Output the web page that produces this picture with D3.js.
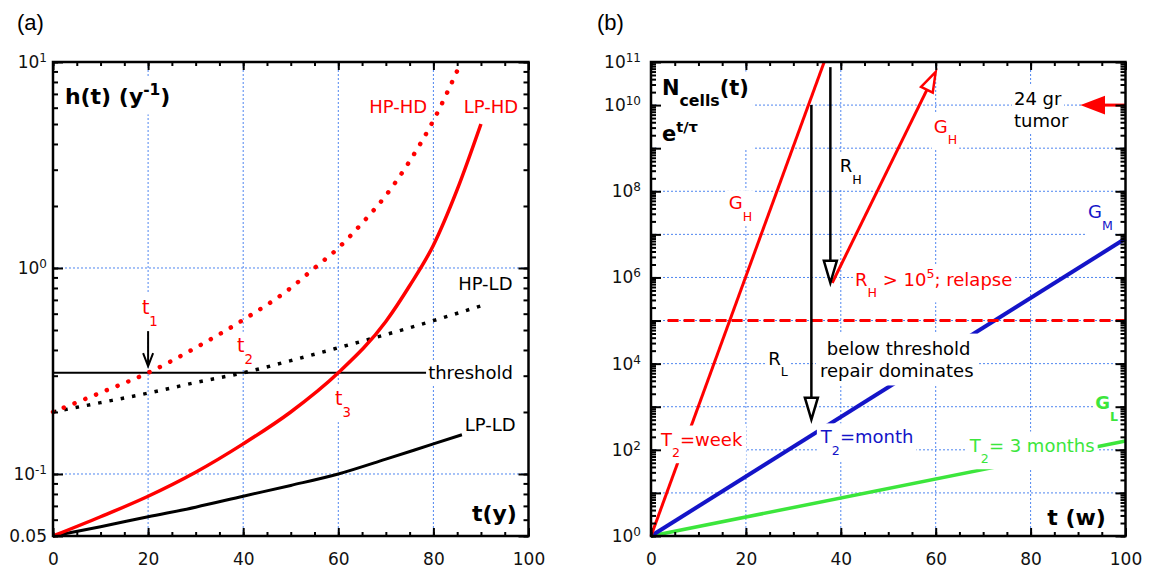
<!DOCTYPE html>
<html>
<head>
<meta charset="utf-8">
<script src="https://cdn.jsdelivr.net/npm/d3@7"></script>
<style>
  body { margin: 0; background: #fff; }
  svg { display: block; font-family: "DejaVu Sans", Verdana, sans-serif; }
</style>
</head>
<body>
<div id="chart"></div>
<script>
// (a) hazard h(t), per year, against age in years
const yearsLPHD = [0, 10, 20, 30, 40, 50, 60, 70, 75, 80, 85, 90];
const lpHD = [0.05, 0.062, 0.078, 0.102, 0.14, 0.2, 0.31, 0.55, 0.82, 1.29, 2.4, 5.0];
const yearsHPHD = [0, 10, 20, 30, 40, 50, 55, 60, 65, 70, 75, 80, 85.5];
const hpHD = [0.2, 0.248, 0.31, 0.41, 0.56, 0.8, 1.0, 1.25, 1.65, 2.25, 3.3, 5.2, 9.6];
const yearsHPLD = [0, 10, 20, 30, 40, 50, 60, 70, 80, 90];
const hpLD = [0.2, 0.222, 0.247, 0.278, 0.31, 0.355, 0.41, 0.475, 0.555, 0.655];
const yearsLPLD = [0, 10, 20, 30, 40, 50, 60, 70, 80, 86];
const lpLD = [0.05, 0.0555, 0.062, 0.069, 0.078, 0.088, 0.1, 0.118, 0.14, 0.155];
const hazardThreshold = 0.31;
const hazardThresholdEnd = 78.5;
const yTicksA = [0.05, 0.1, 1, 10];

// (b) number of cells against time in weeks
const weeksGH = [0, 36.5];
const cellsGH = [1, 1e11];
const weeksRelapse = [38.2, 60];
const cellsRelapse = [7.5e5, 5.9e10];
const weeksGM = [0, 100];
const cellsGM = [1, 8e6];
const weeksGL = [0, 100];
const cellsGL = [1, 160];
const cellThreshold = 1e5;
const tumorCells = 1e10;
const yTicksB = [1, 1e1, 1e2, 1e3, 1e4, 1e5, 1e6, 1e7, 1e8, 1e9, 1e10, 1e11];
const yLabelExpB = [0, 2, 4, 6, 8, 10, 11];

const xMajor = [0, 20, 40, 60, 80, 100];
const xMinor = d3.range(0, 101, 5);

const width = 1157;
const height = 570;
const red = '#ff0000', blue = '#1414c8', green = '#3ce63c', gridColor = '#4f86f0';

const svg = d3.select('#chart')
  .append('svg')
  .attr('width', width)
  .attr('height', height);

svg.append('rect').attr('width', width).attr('height', height).attr('fill', '#fff');

const areaA = { left: 53, right: 528.5, top: 62, bottom: 536 };
const areaB = { left: 651, right: 1125.5, top: 62, bottom: 536 };

const xa = d3.scaleLinear().domain([0, 100]).range([areaA.left, areaA.right]);
const ya = d3.scaleLog().domain([0.05, 10]).range([areaA.bottom, areaA.top]);
const xb = d3.scaleLinear().domain([0, 100]).range([areaB.left, areaB.right]);
const yb = d3.scaleLog().domain([1, 1e11]).range([areaB.bottom, areaB.top]);

function layers() {
  const g = svg.append('g');
  const l = {};
  ['grid', 'curves', 'boxes', 'text', 'frame'].forEach(k => l[k] = g.append('g'));
  return l;
}

function drawGrid(l, x, y, area, xs, ys) {
  const gg = l.grid.append('g')
    .attr('stroke', gridColor).attr('stroke-width', 1).attr('stroke-dasharray', '2,2');
  gg.selectAll('line.gx').data(xs).join('line').attr('class', 'gx')
    .attr('x1', d => x(d)).attr('x2', d => x(d))
    .attr('y1', area.top).attr('y2', area.bottom);
  gg.selectAll('line.gy').data(ys).join('line').attr('class', 'gy')
    .attr('x1', area.left).attr('x2', area.right)
    .attr('y1', d => y(d)).attr('y2', d => y(d));
}

function styleAxis(g) {
  g.select('.domain').remove();
  g.selectAll('line').attr('stroke', '#000').attr('stroke-width', 2);
  g.attr('font-size', 17).attr('font-family', '"DejaVu Sans", Verdana, sans-serif');
  g.selectAll('text').attr('fill', '#111');
}

function powLabels(g, show) {
  g.selectAll('.tick text').each(function (d) {
    const t = d3.select(this);
    if (Math.abs(d - 0.05) < 1e-9) { t.text('0.05'); return; }
    const e = Math.round(Math.log10(d));
    t.text(null);
    if (!show(e)) return;
    t.text('10');
    t.append('tspan').attr('dy', '-0.5em').attr('font-size', 12).text(e);
  });
}

function drawAxes(l, x, y, area, yMajor, show, pad) {
  const f = l.frame;
  const add = (tr, axis) => f.append('g').attr('transform', tr).call(axis).call(styleAxis);
  add(`translate(0,${area.bottom})`, d3.axisBottom(x).tickValues(xMinor).tickSize(-4).tickFormat(''));
  add(`translate(0,${area.bottom})`, d3.axisBottom(x).tickValues(xMajor).tickSize(-8).tickPadding(17));
  add(`translate(0,${area.top})`, d3.axisTop(x).tickValues(xMinor).tickSize(-4).tickFormat(''));
  add(`translate(0,${area.top})`, d3.axisTop(x).tickValues(xMajor).tickSize(-8).tickFormat(''));
  const minor = y.ticks(40);
  add(`translate(${area.left},0)`, d3.axisLeft(y).tickValues(minor).tickSize(-5).tickFormat(''));
  add(`translate(${area.right},0)`, d3.axisRight(y).tickValues(minor).tickSize(-5).tickFormat(''));
  add(`translate(${area.right},0)`, d3.axisRight(y).tickValues(yMajor).tickSize(-10).tickFormat(''));
  add(`translate(${area.left},0)`, d3.axisLeft(y).tickValues(yMajor).tickSize(-10).tickPadding(pad).tickFormat(''))
    .call(g => powLabels(g, show));
  f.append('rect')
    .attr('x', area.left).attr('y', area.top)
    .attr('width', area.right - area.left).attr('height', area.bottom - area.top)
    .attr('fill', 'none').attr('stroke', '#000').attr('stroke-width', 2.5);
}

function curve(l, x, y, xs, ys, color, w, dash, cap) {
  const pts = xs.map((d, i) => [x(d), y(ys[i])]);
  l.curves.append('path')
    .attr('d', d3.line().curve(d3.curveMonotoneX)(pts))
    .attr('fill', 'none').attr('stroke', color).attr('stroke-width', w)
    .attr('stroke-dasharray', dash || null)
    .attr('stroke-linecap', cap || 'butt')
    .attr('stroke-linejoin', 'round');
}

function label(l, px, py, parts, o = {}) {
  const fs = o.size || 18;
  const t = l.text.append('text')
    .attr('x', px).attr('y', py + fs * 0.36)
    .attr('font-size', fs).attr('fill', o.color || '#000')
    .attr('font-weight', o.bold ? 'bold' : 'normal')
    .attr('text-anchor', o.anchor || 'start')
    .style('white-space', 'pre');
  let shift = 0;
  parts.forEach(p => {
    const [s, k] = Array.isArray(p) ? p : [p, ''];
    const target = k === 'sub' ? fs * (o.subShift || 0.65) : k === 'sup' ? -fs * 0.42 : 0;
    t.append('tspan').attr('dy', target - shift)
      .attr('font-size', k ? fs * (o.small || 0.7) : fs).text(s);
    shift = target;
  });
  if (o.box !== false) whiteBox(l, [t.node()], o.pad ?? 2);
  return t.node();
}

function whiteBox(l, nodes, pad) {
  const bs = nodes.map(n => n.getBBox());
  const x0 = d3.min(bs, b => b.x) - pad, x1 = d3.max(bs, b => b.x + b.width) + pad;
  const y0 = d3.min(bs, b => b.y) - pad, y1 = d3.max(bs, b => b.y + b.height) + pad;
  l.boxes.append('rect').attr('x', x0).attr('y', y0)
    .attr('width', x1 - x0).attr('height', y1 - y0).attr('fill', '#fff');
}

// arrow head with its tip at (tx, ty), pointing along angle a
function head(l, tx, ty, a, color, len, half, filled) {
  const dx = Math.cos(a), dy = Math.sin(a);
  const bx = tx - len * dx, by = ty - len * dy;
  const pts = [[tx, ty], [bx - half * dy, by + half * dx], [bx + half * dy, by - half * dx]];
  l.curves.append('path').attr('d', d3.line()(pts) + 'Z')
    .attr('fill', filled ? color : '#fff').attr('stroke', color)
    .attr('stroke-width', 2.5).attr('stroke-linejoin', 'miter');
}

function arrow(l, x1, y1, x2, y2, color, w, len, half, filled) {
  const a = Math.atan2(y2 - y1, x2 - x1);
  const [bx, by] = [x2 - len * Math.cos(a), y2 - len * Math.sin(a)];
  l.curves.append('line').attr('x1', x1).attr('y1', y1).attr('x2', bx).attr('y2', by)
    .attr('stroke', color).attr('stroke-width', w);
  head(l, x2, y2, a, color, len, half, filled);
}

// ---------- panel (a) ----------
const A = layers();
drawGrid(A, xa, ya, areaA, [20, 40, 60, 80], [0.1, 1]);
curve(A, xa, ya, yearsLPLD, lpLD, '#000', 3);
curve(A, xa, ya, yearsHPLD, hpLD, '#000', 3.5, '3.5,8');
curve(A, xa, ya, [0, hazardThresholdEnd], [hazardThreshold, hazardThreshold], '#000', 2);
curve(A, xa, ya, yearsLPHD, lpHD, red, 3.5);
curve(A, xa, ya, yearsHPHD, hpHD, red, 4.5, '0.1,11.5', 'round');

// t1 arrow
A.curves.append('path')
  .attr('d', `M${xa(20)},${ya(0.56)}V${ya(0.334)}M${xa(20) - 5},${ya(0.334) - 13}L${xa(20)},${ya(0.334)}L${xa(20) + 5},${ya(0.334) - 13}`)
  .attr('fill', 'none').attr('stroke', '#000').attr('stroke-width', 2);

whiteBox(A, [label(A, xa(2.5), ya(6.8), ['h(t) (y', ['-1', 'sup'], ')'], { size: 22, bold: true, box: false })], 5);
label(A, xa(66.5), ya(6.05), ['HP-HD'], { color: red });
label(A, xa(86.4), ya(6.05), ['LP-HD'], { color: red });
label(A, xa(85.2), ya(0.836), ['HP-LD']);
label(A, xa(78.9), ya(hazardThreshold), ['threshold']);
label(A, xa(86.6), ya(0.173), ['LP-LD']);
label(A, xa(18.7), ya(0.647), ['t', ['1', 'sub']], { color: red, size: 19 });
label(A, xa(38.7), ya(0.423), ['t', ['2', 'sub']], { color: red, size: 19 });
label(A, xa(59.3), ya(0.234), ['t', ['3', 'sub']], { color: red, size: 19 });
label(A, xa(88.1), ya(0.0647), ['t(y)'], { size: 22, bold: true });
drawAxes(A, xa, ya, areaA, yTicksA, () => true, 6);

// ---------- panel (b) ----------
const B = layers();
drawGrid(B, xb, yb, areaB, [20, 40, 60, 80], yTicksB.slice(1, 11));
curve(B, xb, yb, weeksGL, cellsGL, green, 3.5);
curve(B, xb, yb, weeksGM, cellsGM, blue, 4);
curve(B, xb, yb, weeksGH, cellsGH, red, 3);
curve(B, xb, yb, [3.5, 100], [cellThreshold, cellThreshold], red, 3, '11,5');

// relapse growth, ends in an open head
arrow(B, xb(weeksRelapse[0]), yb(cellsRelapse[0]), xb(weeksRelapse[1]), yb(cellsRelapse[1]), red, 3, 20, 6.5, false);
arrow(B, xb(37.8), yb(7.6e10), xb(37.8), yb(7.5e5), '#000', 2.5, 22, 6.5, false);
arrow(B, xb(33.8), yb(1e10), xb(33.8), yb(500), '#000', 2.5, 22, 6.5, false);
arrow(B, xb(100), yb(tumorCells), xb(91.2), yb(tumorCells), red, 3, 20, 7.5, true);

{
  const n1 = label(B, xb(2.3), yb(10 ** 10.42), ['N', ['cells', 'sub'], '(t)'], { size: 21, bold: true, small: 0.75, subShift: 0.55, box: false });
  const n2 = label(B, xb(2.3), yb(10 ** 9.35), ['e', ['t/τ', 'sup']], { size: 21, bold: true, box: false });
  whiteBox(B, [n1, n2], 4);
}
label(B, xb(76.5), yb(10 ** 10.16), ['24 gr']);
label(B, xb(76.5), yb(10 ** 9.65), ['tumor']);
label(B, xb(16.4), yb(10 ** 7.73), ['G', ['H', 'sub']], { color: red });
label(B, xb(59.6), yb(10 ** 9.51), ['G', ['H', 'sub']], { color: red });
label(B, xb(39.8), yb(10 ** 8.59), ['R', ['H', 'sub']]);
label(B, xb(92.1), yb(10 ** 7.52), ['G', ['M', 'sub']], { color: blue });
label(B, xb(43), yb(10 ** 5.96), ['R', ['H', 'sub'], ' > 10', ['5', 'sup'], '; relapse'], { color: red });
label(B, xb(24.7), yb(10 ** 4.13), ['R', ['L', 'sub']]);
{
  const b1 = label(B, xb(52.2), yb(10 ** 4.36), ['below threshold'], { anchor: 'middle', box: false });
  const b2 = label(B, xb(51.8), yb(10 ** 3.83), ['repair dominates'], { anchor: 'middle', box: false });
  whiteBox(B, [b1, b2], 4);
}
label(B, xb(93.6), yb(10 ** 3.09), ['G', ['L', 'sub']], { color: green, bold: true });
label(B, xb(2.1), yb(10 ** 2.25), ['T', ['2', 'sub'], '=week'], { color: red, pad: 3 });
label(B, xb(35.8), yb(10 ** 2.3), ['T', ['2', 'sub'], '=month'], { color: blue, pad: 3 });
label(B, xb(67.2), yb(10 ** 2.11), ['T', ['2', 'sub'], '= 3 months'], { color: green, pad: 3 });
label(B, xb(83.5), yb(10 ** 0.44), ['t (w)'], { size: 22, bold: true });
drawAxes(B, xb, yb, areaB, yTicksB, e => yLabelExpB.includes(e), 10);

// panel letters
svg.append('text').attr('x', 17).attr('y', 30).attr('font-size', 22)
  .attr('font-family', '"Liberation Sans", Arial, sans-serif').text('(a)');
svg.append('text').attr('x', 597).attr('y', 30).attr('font-size', 22)
  .attr('font-family', '"Liberation Sans", Arial, sans-serif').text('(b)');
</script>
</body>
</html>
